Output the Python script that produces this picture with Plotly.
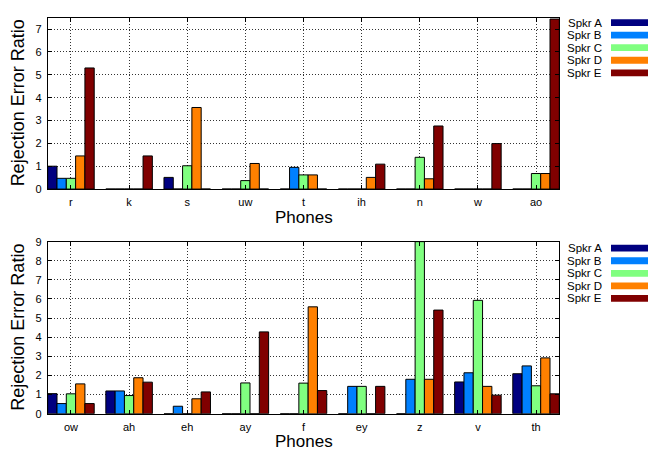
import plotly.graph_objects as go

# ---- data ----
speakers = ["Spkr A", "Spkr B", "Spkr C", "Spkr D", "Spkr E"]
colors = ["#000080", "#0080ff", "#80ff80", "#ff8000", "#800000"]

phones_top = ["r", "k", "s", "uw", "t", "ih", "n", "w", "ao"]
top_A = [1.00, 0, 0.51, 0, 0, 0, 0, 0, 0]
top_B = [0.47, 0, 0, 0, 0.95, 0, 0, 0, 0]
top_C = [0.47, 0, 1.02, 0.37, 0.62, 0, 1.39, 0, 0.68]
top_D = [1.45, 0, 3.57, 1.12, 0.62, 0.51, 0.45, 0, 0.68]
top_E = [5.30, 1.45, 0, 0, 0, 1.09, 2.76, 1.99, 7.44]

phones_bot = ["ow", "ah", "eh", "ay", "f", "ey", "z", "v", "th"]
bot_A = [1.05, 1.19, 0, 0, 0, 0, 0, 1.66, 2.09]
bot_B = [0.53, 1.19, 0.39, 0, 0, 1.43, 1.80, 2.14, 2.50]
bot_C = [1.04, 0.95, 0, 1.61, 1.60, 1.43, 9.00, 5.93, 1.46]
bot_D = [1.56, 1.88, 0.78, 0, 5.59, 0, 1.80, 1.43, 2.92]
bot_E = [0.53, 1.65, 1.14, 4.28, 1.21, 1.43, 5.42, 0.97, 1.04]

top_vals = [top_A, top_B, top_C, top_D, top_E]
bot_vals = [bot_A, bot_B, bot_C, bot_D, bot_E]

W, H = 650, 457
FONT = "Liberation Sans, Arial, sans-serif"

fig = go.Figure()
for name, col, tv, bv in zip(speakers, colors, top_vals, bot_vals):
    fig.add_trace(go.Bar(x=phones_top, y=tv, name=name, marker=dict(color=col, line=dict(color="black", width=1)),
                         xaxis="x", yaxis="y", showlegend=False))
    fig.add_trace(go.Bar(x=phones_bot, y=bv, name=name, marker=dict(color=col, line=dict(color="black", width=1)),
                         xaxis="x2", yaxis="y2", showlegend=False))

xl, xr = 47.7 / W, 559.3 / W
top_dom = [1 - 188 / H, 1 - 12 / H]
bot_dom = [1 - 418.7 / H, 1 - 242 / H]

ax_common = dict(showline=True, mirror="ticks", linecolor="black", linewidth=1,
                 showgrid=True, gridcolor="#333333", griddash="1px,2px", gridwidth=1,
                 ticks="inside", ticklen=4, tickcolor="black",
                 tickfont=dict(family=FONT, size=11, color="black"),
                 zeroline=False, ticklabelstandoff=3)

fig.update_layout(
    width=W, height=H,
    margin=dict(l=0, r=0, t=0, b=0),
    paper_bgcolor="white", plot_bgcolor="white",
    barmode="group", bargap=0.2, bargroupgap=0,
    font=dict(family=FONT, color="black"),
    xaxis=dict(domain=[xl, xr], anchor="y", type="category", range=[-0.4, 8.4], **ax_common),
    yaxis=dict(domain=top_dom, anchor="x", range=[0, 7.5], dtick=1, **ax_common),
    xaxis2=dict(domain=[xl, xr], anchor="y2", type="category", range=[-0.4, 8.4], **ax_common),
    yaxis2=dict(domain=bot_dom, anchor="x2", range=[0, 9], dtick=1, **ax_common),
)

annotations = []
shapes = []
# axis titles
for dom, xtitle_y in [(top_dom, 217), (bot_dom, 447.5)]:
    annotations.append(dict(text="Rejection Error Ratio", x=18 / W, y=(dom[0] + dom[1]) / 2,
                            xref="paper", yref="paper", textangle=-90, showarrow=False,
                            xanchor="center", yanchor="middle", font=dict(family=FONT, size=18)))
    annotations.append(dict(text="Phones", x=(xl + xr) / 2, y=1 - xtitle_y / H,
                            xref="paper", yref="paper", showarrow=False,
                            xanchor="center", yanchor="middle", font=dict(family=FONT, size=17)))

# manual legends (text left of swatch)
for first_y, step in [(17.0, 12.9), (248.7, 12.9)]:
    for i, (name, col) in enumerate(zip(speakers, colors)):
        yc = first_y + i * step
        annotations.append(dict(text=name, x=604 / W, y=1 - yc / H, xref="paper", yref="paper",
                                showarrow=False, xanchor="right", yanchor="middle",
                                font=dict(family=FONT, size=11.5)))
        shapes.append(dict(type="rect", xref="paper", yref="paper",
                           x0=611 / W, x1=648 / W, y0=1 - (yc + 3.5) / H, y1=1 - (yc - 3.5) / H,
                           fillcolor=col, line=dict(width=0)))

fig.update_layout(annotations=annotations, shapes=shapes)
fig.write_html("out.html", config={"displayModeBar": False},
               post_script="document.body.style.margin='0px';")
